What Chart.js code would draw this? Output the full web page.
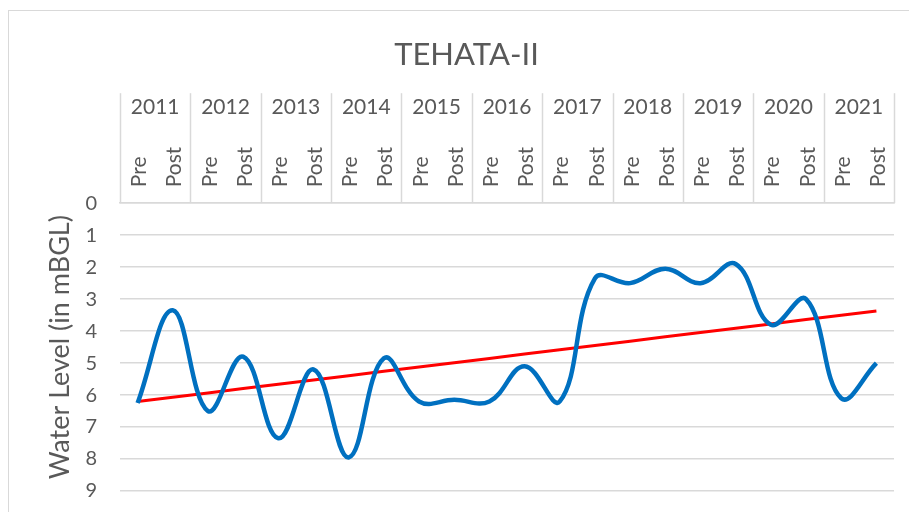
<!DOCTYPE html>
<html>
<head>
<meta charset="utf-8">
<title>TEHATA-II</title>
<script src="https://cdn.jsdelivr.net/npm/chart.js@4.4.1/dist/chart.umd.min.js"></script>
<style>
  html, body { margin: 0; padding: 0; background: #fff; overflow: hidden; width: 909px; height: 512px; }
  #frame { position: absolute; left: 8px; top: 10px; width: 912px; height: 510px; border: 1px solid #d9d9d9; }
  canvas { display: block; }
</style>
</head>
<body>
<div id="frame"><canvas id="levelChart" width="912" height="510"></canvas></div>
<script>
const years = ['2011', '2012', '2013', '2014', '2015', '2016', '2017', '2018', '2019', '2020', '2021'];
const seasons = ['Pre', 'Post', 'Pre', 'Post', 'Pre', 'Post', 'Pre', 'Post', 'Pre', 'Post', 'Pre', 'Post',
  'Pre', 'Post', 'Pre', 'Post', 'Pre', 'Post', 'Pre', 'Post', 'Pre', 'Post'];
const waterLevel = [6.25, 3.35, 6.5, 4.8, 7.35, 5.2, 7.95, 4.85, 6.2, 6.15, 6.2, 5.1,
  6.2, 2.35, 2.5, 2.05, 2.5, 1.9, 3.8, 3.0, 6.1, 5.0];
const yTicks = [0, 1, 2, 3, 4, 5, 6, 7, 8, 9];

// linear trendline (least squares) like Excel's
const n = waterLevel.length;
const meanX = (n - 1) / 2;
const meanY = waterLevel.reduce((s, v) => s + v, 0) / n;
let sxy = 0, sxx = 0;
waterLevel.forEach((v, i) => { sxy += (i - meanX) * (v - meanY); sxx += (i - meanX) * (i - meanX); });
const slope = sxy / sxx;
const trend = waterLevel.map((v, i) => meanY + slope * (i - meanX));

const grey = '#595959';
const gridGrey = '#d9d9d9';
const font = 'Lato, "Open Sans", sans-serif';

// year separators spanning both category rows
const yearBoxes = {
  id: 'yearBoxes',
  afterDraw(chart) {
    const xs = chart.scales.x;
    const x2 = chart.scales.x2;
    const ctx = chart.ctx;
    const step = (xs.right - xs.left) / years.length;
    ctx.save();
    ctx.strokeStyle = gridGrey;
    ctx.lineWidth = 1.5;
    for (let k = 0; k <= years.length; k++) {
      const px = Math.round(xs.left + k * step) + 0.5;
      ctx.beginPath();
      ctx.moveTo(px, x2.top);
      ctx.lineTo(px, xs.bottom);
      ctx.stroke();
    }
    ctx.restore();
  }
};

function fixHeight(h) {
  return function (scale) {
    scale.height = h;
    scale.paddingLeft = 0;
    scale.paddingRight = 0;
  };
}

new Chart(document.getElementById('levelChart').getContext('2d'), {
  type: 'line',
  data: {
    labels: seasons,
    datasets: [{
      data: waterLevel,
      borderColor: '#0070c0',
      borderWidth: 4.5,
      pointRadius: 0,
      tension: 0.4,
      fill: false
    }, {
      data: trend,
      borderColor: '#ff0000',
      borderWidth: 3,
      pointRadius: 0,
      tension: 0,
      fill: false
    }]
  },
  options: {
    responsive: false,
    animation: false,
    layout: { padding: { left: 30, right: 27, top: 0, bottom: 30 } },
    plugins: {
      legend: { display: false },
      tooltip: { enabled: false },
      title: {
        display: true,
        text: 'TEHATA-II',
        color: grey,
        font: { family: font, size: 31, weight: 'normal' },
        padding: { top: 25, bottom: 20 }
      }
    },
    scales: {
      x: {
        type: 'category',
        position: 'top',
        offset: true,
        weight: 0,
        afterFit: fixHeight(56),
        grid: { display: false, drawTicks: false },
        border: { display: true, color: gridGrey, width: 1.5 },
        ticks: {
          color: grey,
          font: { family: font, size: 21 },
          autoSkip: false,
          minRotation: 90,
          maxRotation: 90,
          labelOffset: 27,
          padding: 16
        }
      },
      x2: {
        type: 'category',
        position: 'top',
        labels: years,
        offset: true,
        weight: 1,
        afterFit: fixHeight(54),
        grid: { display: false, drawTicks: false },
        border: { display: false },
        ticks: {
          color: grey,
          font: { family: font, size: 21 },
          autoSkip: false,
          maxRotation: 0,
          padding: 27
        }
      },
      y: {
        reverse: true,
        min: 0,
        max: 9,
        afterBuildTicks(scale) { scale.ticks = yTicks.map(v => ({ value: v })); },
        afterFit(scale) {
          scale.width = 81;
          scale.paddingTop = 0;
          scale.paddingBottom = 0;
        },
        grid: { color: gridGrey, lineWidth: 1.5, drawTicks: false },
        border: { display: false },
        ticks: { color: grey, font: { family: font, size: 20 }, padding: 23 },
        title: {
          display: true,
          text: 'Water Level (in mBGL)',
          color: grey,
          font: { family: font, size: 27 },
          padding: { top: 5, bottom: 0 }
        }
      }
    }
  },
  plugins: [yearBoxes]
});
</script>
</body>
</html>
